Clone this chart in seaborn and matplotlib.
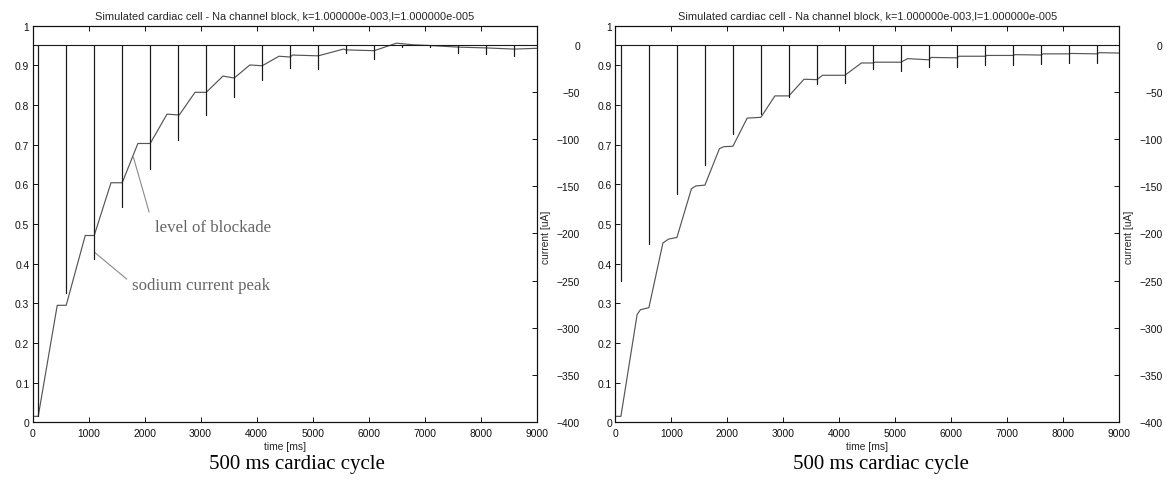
import matplotlib
matplotlib.use("Agg")
import matplotlib.pyplot as plt
import pandas as pd
import seaborn as sns

# ---------------- data ----------------
stim_times = [100, 600, 1100, 1600, 2100, 2600, 3100, 3600, 4100,
              4600, 5100, 5600, 6100, 6600, 7100, 7600, 8100, 8600]

# sodium current peaks [uA], left panel (A) and right panel (B)
peak_current_A = [-393, -263, -227, -172, -132, -101, -75, -55, -38,
                  -25, -26, -9, -15, -3, -3, -9, -10, -12]
peak_current_B = [-250, -211, -158, -128, -95, -74, -55, -42, -41,
                  -26, -28, -24, -24, -22, -22, -21, -20, -20]

# level of blockade, left panel
block_time_A = [0, 100, 440, 600, 940, 1100, 1400, 1600, 1880, 2100, 2400, 2600,
                2620, 2900, 3100, 3400, 3600, 3880, 4100, 4400, 4600, 4640, 5100,
                5550, 5600, 6100, 6500, 6780, 7100, 7600, 8100, 8600, 9000]
block_level_A = [0.015, 0.015, 0.295, 0.295, 0.471, 0.471, 0.604, 0.604, 0.703, 0.703,
                 0.777, 0.775, 0.775, 0.832, 0.832, 0.873, 0.868, 0.901, 0.899, 0.923,
                 0.921, 0.926, 0.924, 0.941, 0.939, 0.937, 0.956, 0.952, 0.950, 0.946,
                 0.944, 0.941, 0.943]

# level of blockade, right panel
block_time_B = [0, 100, 390, 450, 600, 850, 950, 1100, 1360, 1440, 1600, 1860, 1940,
                2100, 2355, 2600, 2850, 3100, 3370, 3600, 3700, 4100, 4395, 4600, 4640,
                5100, 5220, 5600, 5640, 6100, 6140, 6600, 6640, 7100, 7140, 7600, 7640,
                8100, 8140, 8600, 8640, 9000]
block_level_B = [0.015, 0.015, 0.272, 0.284, 0.289, 0.452, 0.462, 0.466, 0.589, 0.596,
                 0.598, 0.690, 0.695, 0.696, 0.767, 0.769, 0.823, 0.823, 0.865, 0.864,
                 0.875, 0.875, 0.906, 0.906, 0.908, 0.908, 0.917, 0.914, 0.920, 0.919,
                 0.923, 0.923, 0.925, 0.925, 0.927, 0.926, 0.929, 0.929, 0.930, 0.929,
                 0.932, 0.931]

x_ticks = [0, 1000, 2000, 3000, 4000, 5000, 6000, 7000, 8000, 9000]
left_ticks = [0, 0.1, 0.2, 0.3, 0.4, 0.5, 0.6, 0.7, 0.8, 0.9, 1.0]
left_tick_labels = ["0", "0.1", "0.2", "0.3", "0.4", "0.5", "0.6", "0.7", "0.8", "0.9", "1"]
right_ticks = [-400, -350, -300, -250, -200, -150, -100, -50, 0]

title_text = "Simulated cardiac cell - Na channel block, k=1.000000e-003,l=1.000000e-005"
caption_text = "500 ms cardiac cycle"
xlabel_text = "time [ms]"
right_label_text = "current [uA]"
annot_block = "level of blockade"
annot_peak = "sodium current peak"

# ---------------- style ----------------
sns.set_style("ticks")
plt.rcParams["font.family"] = ["Liberation Sans", "DejaVu Sans"]
plt.rcParams["axes.linewidth"] = 0.8
plt.rcParams["axes.edgecolor"] = "#111111"
plt.rcParams["xtick.color"] = "#111111"
plt.rcParams["ytick.color"] = "#111111"

FS = 7.4
SERIF = ["Liberation Serif", "DejaVu Serif"]


def current_frame(times, peaks):
    xs, ys = [0], [0]
    for t, p in zip(times, peaks):
        xs += [t, t, t]
        ys += [0, p, 0]
    xs.append(9000)
    ys.append(0)
    return pd.DataFrame({"time": xs, "current": ys})


fig = plt.figure(figsize=(11.67, 4.85), dpi=100)

W = 504 / 1167
H = 396.6 / 485
Y0 = 1 - 423.3 / 485
panels = [
    (32.6 / 1167, block_time_A, block_level_A, peak_current_A, True, 297),
    (615.3 / 1167, block_time_B, block_level_B, peak_current_B, False, 881),
]

for x0, bt, bl, pk, annotate, cap_x in panels:
    ax = fig.add_axes([x0, Y0, W, H])
    df_b = pd.DataFrame({"time": bt, "level": bl})
    sns.lineplot(data=df_b, x="time", y="level", ax=ax, sort=False, estimator=None,
                 color="#555555", lw=0.85, legend=False)
    ax.set_xlim(0, 9000)
    ax.set_ylim(0, 1)
    ax.set_xticks(x_ticks)
    ax.set_xticklabels([str(v) for v in x_ticks])
    ax.set_yticks(left_ticks)
    ax.set_yticklabels(left_tick_labels)
    ax.tick_params(axis="x", direction="in", length=3.8, width=0.7, top=True,
                   labeltop=False, pad=4.0, labelsize=FS)
    ax.tick_params(axis="y", direction="in", length=3.8, width=0.7, left=True,
                   right=False, pad=2.4, labelsize=FS)
    ax.set_xlabel(xlabel_text, fontsize=FS, labelpad=2.5)
    ax.set_ylabel("")
    ax.set_title(title_text, fontsize=7.9, pad=5)
    for s in ax.spines.values():
        s.set_visible(True)

    ax2 = ax.twinx()
    df_c = current_frame(stim_times, pk)
    sns.lineplot(data=df_c, x="time", y="current", ax=ax2, sort=False, estimator=None,
                 color="#1a1a1a", lw=0.8, legend=False)
    ax2.set_xlim(0, 9000)
    ax2.set_ylim(-400, 20)
    ax2.set_yticks(right_ticks)
    ax2.set_yticklabels([str(v).replace("-", "\u2212") for v in right_ticks])
    ax2.tick_params(axis="y", direction="in", length=3.8, width=0.7, right=True,
                    left=False, labelright=True, pad=31.2, labelsize=FS)
    for tk in ax2.yaxis.get_major_ticks():
        tk.label2.set_horizontalalignment("right")
    ax2.set_ylabel("")
    ax2.text(1.0195, 0.47, right_label_text, transform=ax2.transAxes, rotation=90,
             ha="center", va="center", fontsize=FS)

    if annotate:
        ax.annotate("", xy=(1801, 0.668), xytext=(2081, 0.530),
                    arrowprops=dict(arrowstyle="-", color="#8a8a8a", lw=0.8,
                                    shrinkA=0, shrinkB=0))
        ax.text(2190, 0.493, annot_block, ha="left", va="center", fontsize=12.2,
                family=SERIF, color="#666666")
        ax.annotate("", xy=(1103, 0.429), xytext=(1682, 0.361),
                    arrowprops=dict(arrowstyle="-", color="#8a8a8a", lw=0.8,
                                    shrinkA=0, shrinkB=0))
        ax.text(1771, 0.345, annot_peak, ha="left", va="center", fontsize=12.2,
                family=SERIF, color="#666666")

    fig.text(cap_x / 1167, 1 - 465 / 485, caption_text, ha="center", va="center",
             fontsize=15, family=SERIF, color="black")

fig.savefig("out.png", dpi=100)
